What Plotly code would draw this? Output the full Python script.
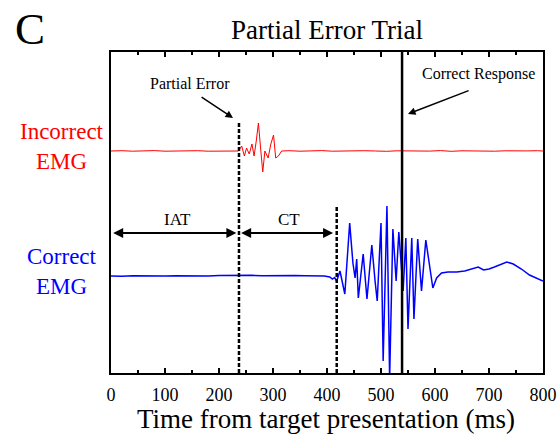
import plotly.graph_objects as go

# ---- data ----
red_t = [0, 20, 40, 60, 80, 100, 120, 140, 160, 180, 200, 220, 236, 242, 247, 251, 256, 261, 265, 269,
         273, 277, 281, 285, 291, 296, 301, 305, 310, 316, 330, 350, 370, 390, 410, 430, 450, 470, 490,
         510, 530, 550, 570, 590, 610, 630, 650, 670, 690, 710, 730, 750, 770, 790, 800]
red_v = [222, 222.3, 221.8, 222, 222.4, 221.8, 222.2, 221.9, 222.3, 221.8, 222.1, 222.3, 222, 227, 217, 225, 219, 229, 217, 232,
         250, 225, 201, 222, 215, 229, 238, 215, 217, 222, 222.3, 221.8, 222.2, 222.4, 221.8, 222.1, 221.7, 222.3, 222,
         221.7, 222.2, 221.9, 222.3, 221.9, 222.4, 221.7, 222.2, 222, 222.3, 221.8, 222.2, 221.9, 222.1, 222.3, 222]

blue_t = [0, 20, 40, 60, 80, 100, 120, 140, 160, 180, 200, 220, 240, 260, 280, 300, 320, 340, 360, 380,
          395, 405, 410, 414, 418, 424, 433, 442, 448, 452, 455, 458, 467, 474, 483, 489, 493, 500, 504,
          511, 516, 522, 528, 533, 541, 546, 550, 557, 561, 568, 575, 583, 591, 596, 603, 612, 624, 640,
          655, 670, 680, 690, 700, 710, 720, 733, 745, 760, 775, 790, 800]
blue_v = [97, 96.7, 97.2, 96.9, 97.3, 96.9, 97.3, 97, 97.4, 97.1, 97.6, 97.8, 97.5, 97.7, 97.3, 97.6, 97.2, 97.5, 97.2, 96.9,
          97, 96, 94, 95.5, 92, 102, 79, 150, 110, 95, 114, 75, 119, 74, 128, 92, 72, 150, 12,
          167, -5, 144, 92, 141, 82, 135, 44, 135, 54, 134, 82, 133, 102, 85, 95, 100, 101, 101,
          102, 104, 106, 103, 104, 106, 108, 111, 109, 104, 98, 94, 92]

x_ticks = [0, 100, 200, 300, 400, 500, 600, 700, 800]
partial_error_t = 237
correct_onset_t = 418
correct_response_t = 539

serif = "Liberation Serif"

fig = go.Figure()
fig.add_trace(go.Scatter(x=red_t, y=red_v, mode="lines", line=dict(color="#ff0000", width=1), showlegend=False))
fig.add_trace(go.Scatter(x=blue_t, y=blue_v, mode="lines", line=dict(color="#0000ff", width=1.5), showlegend=False))

# vertical markers
fig.add_shape(type="line", x0=partial_error_t, x1=partial_error_t, y0=0, y1=251,
              line=dict(color="black", width=2.5, dash="4px,2px"))
fig.add_shape(type="line", x0=correct_onset_t, x1=correct_onset_t, y0=0, y1=167,
              line=dict(color="black", width=2.5, dash="4px,2px"))
fig.add_shape(type="line", x0=correct_response_t, x1=correct_response_t, y0=0, y1=321,
              line=dict(color="black", width=2.5))

W, H = 559, 438
L, R, T, B = 111, 16, 52, 65


def px2paper(px, py):
    return (px - L) / (W - L - R), 1 - (py - T) / (H - T - B)


anns = []
# Partial Error arrow
anns.append(dict(x=226, y=255, ax=165, ay=277, xref="x", yref="y", axref="x", ayref="y",
                 showarrow=True, arrowhead=2, arrowsize=1, arrowwidth=1.5, arrowcolor="black", text=""))
anns.append(dict(x=146, y=290, xref="x", yref="y", text="Partial Error", showarrow=False,
                 font=dict(family=serif, size=16, color="black")))
# Correct Response arrow
anns.append(dict(x=550, y=259, ax=665, ay=283, xref="x", yref="y", axref="x", ayref="y",
                 showarrow=True, arrowhead=2, arrowsize=1, arrowwidth=1.5, arrowcolor="black", text=""))
anns.append(dict(x=680, y=299, xref="x", yref="y", text="Correct Response", showarrow=False,
                 font=dict(family=serif, size=16, color="black")))
# IAT / CT double arrows
anns.append(dict(x=4, y=140, ax=partial_error_t - 2, ay=140, xref="x", yref="y", axref="x", ayref="y",
                 showarrow=True, arrowhead=2, startarrowhead=2, arrowside="end+start", arrowsize=1,
                 arrowwidth=2, arrowcolor="black", text=""))
anns.append(dict(x=partial_error_t + 4, y=140, ax=correct_onset_t - 4, ay=140, xref="x", yref="y",
                 axref="x", ayref="y", showarrow=True, arrowhead=2, startarrowhead=2,
                 arrowside="end+start", arrowsize=1, arrowwidth=2, arrowcolor="black", text=""))
anns.append(dict(x=124, y=154, xref="x", yref="y", text="IAT", showarrow=False,
                 font=dict(family=serif, size=17, color="black")))
anns.append(dict(x=330, y=154, xref="x", yref="y", text="CT", showarrow=False,
                 font=dict(family=serif, size=17, color="black")))

# pixel-positioned texts
pix_texts = [
    (62, 147, "Incorrect<br>EMG", 23, "#ff0000"),
    (62, 271, "Correct<br>EMG", 23, "#0000ff"),
    (30, 29, "C", 45, "black"),
    (327, 30, "Partial Error Trial", 27, "black"),
    (326, 419, "Time from target presentation (ms)", 27, "black"),
]
for px, py, txt, sz, col in pix_texts:
    xp, yp = px2paper(px, py)
    anns.append(dict(x=xp, y=yp, xref="paper", yref="paper", xanchor="center", yanchor="middle",
                     text=txt, showarrow=False, align="center",
                     font=dict(family=serif, size=sz, color=col)))

fig.update_layout(
    width=W, height=H, margin=dict(l=L, r=R, t=T, b=B),
    paper_bgcolor="white", plot_bgcolor="white",
    annotations=anns,
    xaxis=dict(range=[0, 800], tickvals=x_ticks, ticktext=[str(v) for v in x_ticks],
               ticks="inside", ticklen=5, tickwidth=1.5, tickcolor="black", ticklabelstandoff=4,
               minor=dict(ticks="inside", dtick=50, ticklen=3, tickwidth=1.5, tickcolor="black"),
               showline=True, linecolor="black", linewidth=2, mirror="ticks", showgrid=False, zeroline=False,
               tickfont=dict(family=serif, size=18, color="black"), automargin=False),
    yaxis=dict(range=[0, 321], showticklabels=False, ticks="", showline=True, linecolor="black",
               linewidth=2, mirror=True, showgrid=False, zeroline=False, automargin=False),
)

fig.write_html("out.html")
